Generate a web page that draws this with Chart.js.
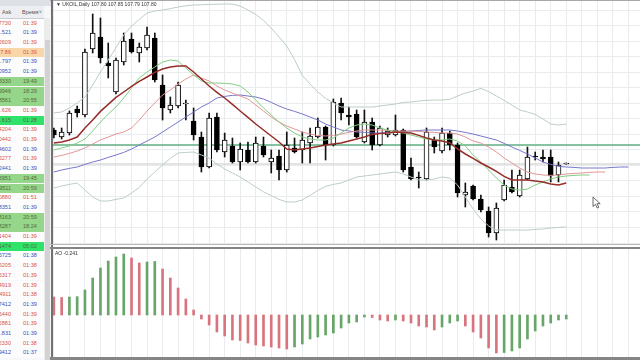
<!DOCTYPE html>
<html><head><meta charset="utf-8">
<script src="https://cdn.jsdelivr.net/npm/chart.js@4.4.1/dist/chart.umd.min.js"></script>
<style>
html,body{margin:0;padding:0;width:640px;height:360px;overflow:hidden;background:#fff;font-family:"Liberation Sans",Arial,sans-serif;}
#panel{position:absolute;left:0;top:0;width:51px;height:360px;background:#f6f7f8;overflow:hidden;}
.row{position:absolute;left:0;width:44px;height:9.7px;line-height:9.7px;font-size:5.5px;}
.row span{position:absolute;top:0;white-space:nowrap;}
#main{position:absolute;left:50px;top:0;}
#ao{position:absolute;left:50px;top:249px;}
.ov{position:absolute;z-index:3;}
#hdr{position:absolute;left:56px;top:1px;font-size:5px;color:#333;z-index:3;white-space:nowrap;}
#aolbl{position:absolute;left:55px;top:250px;font-size:5px;color:#333;z-index:3;white-space:nowrap;}
</style></head>
<body>
<div id="panel"></div>
<canvas id="main" width="590" height="245"></canvas>
<canvas id="ao" width="590" height="108"></canvas>
<div class="ov" style="left:50px;top:0;width:590px;height:1px;background:#a8a8a8"></div>
<div class="ov" style="left:51px;top:0;width:1.5px;height:360px;background:#707070"></div>
<div class="ov" style="left:50px;top:244px;width:590px;height:1px;background:#b8b8b8"></div>
<div class="ov" style="left:50px;top:247px;width:590px;height:2px;background:#858585"></div>
<div class="ov" style="left:50px;top:357px;width:590px;height:3px;background:#858585"></div>
<div id="hdr"></div>
<div id="aolbl"></div>
<svg class="ov" style="left:592px;top:196px" width="10" height="13"><path d="M1 1 L1 10.5 L3.4 8.3 L5.2 12 L6.8 11.3 L5 7.7 L8.2 7.7 Z" fill="#fff" stroke="#444" stroke-width="0.8"/></svg>
<script>
// ---- data ----
const symbolName = "UKOIL,Daily";
const categories = ["1","2","3","4","5","6","7","8","9","10","11","12","13","14","15","16","17","18","19","20","21","22","23","24","25","26","27","28","29","30","31","32","33","34","35","36","37","38","39","40","41","42","43","44","45","46","47","48","49","50","51","52","53","54","55","56","57","58","59","60","61","62","63","64","65","66","67","68","69","70","71","72","73","74","75","76"];
const openP = [109.5,109.15,109.35,110.55,110.25,113.55,114.15,112.85,111.4,112.9,
114.05,113.35,113.6,114.1,111.75,110.5,110.7,110.8,109.95,109.15,
107.65,110.15,108.4,108.7,107.9,108.5,107.9,108.7,107.9,108.2,
107.5,108.6,108.5,108.85,109.15,109.65,108.75,110.85,110.25,110.3,
108.9,109.9,108.75,109.25,109.25,109.5,107.65,107.15,107.05,109.0,
108.45,109.35,108.75,106.25,106.7,106.05,105.45,104.35,106.0,106.65,
106.2,107.05,108.2,108.15,108.15,107.25,107.80];
const highP = [109.6,109.6,110.45,110.7,113.55,115.3,115.1,113.85,113.1,114.35,
114.35,113.85,114.65,114.35,112.25,111.15,111.9,111.0,110.6,109.4,
110.35,110.35,109.35,109.1,108.85,108.9,109.15,109.15,108.5,108.5,
109.4,109.1,109.4,109.6,110.1,109.7,111.05,111.1,110.65,110.5,
110.5,110.1,109.7,109.6,110.25,109.55,108.1,107.4,109.6,109.15,
109.6,109.45,108.85,106.85,106.75,106.25,105.65,105.85,107.0,107.5,
107.5,108.65,108.4,108.5,108.5,107.9,107.85];
const lowP = [109.1,109.05,109.25,110.15,110.15,113.35,112.85,112.1,111.3,112.75,
113.35,112.9,113.5,111.9,110.0,110.35,110.6,110.0,109.0,107.4,
107.6,108.4,108.15,107.85,107.5,107.85,107.85,108.15,107.35,107.0,
107.4,108.35,107.85,107.85,109.1,108.0,108.7,110.0,109.75,109.1,
108.85,108.5,108.7,109.15,109.2,107.4,107.0,106.6,107.0,108.35,
108.35,108.5,106.15,105.65,106.0,105.4,104.15,104.0,105.95,106.35,
106.15,107.0,108.0,107.9,106.9,106.9,107.79];
const closeP = [109.25,109.4,110.35,110.35,113.4,114.35,113.1,112.7,113.0,113.95,
113.4,113.65,114.25,112.0,110.6,110.75,111.75,110.85,109.25,107.65,
110.1,108.5,109.0,107.9,108.55,107.9,108.85,108.25,108.1,107.5,
108.75,108.4,109.0,109.2,109.65,108.75,110.9,110.35,110.15,109.15,
109.9,108.75,109.6,109.45,109.5,107.5,107.05,107.1,109.4,108.65,
109.35,108.75,106.35,106.4,106.05,105.5,104.35,105.6,106.75,106.4,
107.25,108.15,108.15,108.05,107.2,107.75,107.80];
const bbUpper = [110.35,110.4,110.6,110.85,111.15,111.75,112.4,113.0,113.62,114.25,114.7,115.03,115.35,115.45,115.5,115.57,115.65,115.71,115.75,115.76,115.78,115.79,115.8,115.8,115.7,115.5,115.28,114.98,114.6,114.15,113.7,113.02,112.22,111.8,111.4,111.08,110.85,110.65,110.65,110.65,110.65,110.65,110.7,110.75,110.8,110.88,110.9,110.95,110.98,111.0,111.0,111.03,111.2,111.35,111.45,111.58,111.42,111.2,110.98,110.75,110.5,110.4,110.28,110.05,109.8,109.75,109.8];
const bbLower = [106.6,106.7,106.78,106.85,106.5,106.15,105.95,105.95,106.03,106.1,106.35,106.63,107.05,107.4,107.75,108.08,108.35,108.38,108.4,108.25,108.1,107.8,107.55,107.35,107.15,106.9,106.65,106.41,106.22,106.03,105.9,105.9,106.0,106.23,106.48,106.68,106.78,106.85,107.0,107.15,107.2,107.25,107.3,107.35,107.4,107.3,107.15,107.0,107.0,107.05,107.15,107.1,106.75,106.15,105.55,105.05,104.7,104.5,104.5,104.5,104.5,104.5,104.53,104.55,104.6,104.63,104.65];
const maLine = [108.85,108.9,109.0,109.15,109.6,110.0,110.43,110.78,111.13,111.4,111.68,111.93,112.15,112.38,112.55,112.65,112.7,112.7,112.4,112.05,111.7,111.38,111.1,110.78,110.45,110.13,109.8,109.5,109.2,108.9,108.55,108.5,108.55,108.6,108.68,108.75,108.8,108.85,108.95,109.05,109.15,109.28,109.33,109.35,109.4,109.38,109.35,109.23,109.1,109.0,108.95,108.85,108.55,108.3,108.08,107.85,107.65,107.43,107.18,107.0,107.0,107.0,106.95,106.9,106.8,106.75,106.85];
const lipsLine = [108.5,108.6,108.7,108.85,109.05,109.45,109.9,110.3,110.65,111.1,111.6,112.1,112.4,112.65,112.9,113.0,112.95,112.6,112.25,111.95,111.85,111.85,111.83,111.8,111.7,111.4,111.0,110.6,110.25,109.9,109.6,109.35,109.15,109.05,109.0,109.0,109.1,109.35,109.6,109.75,109.8,109.75,109.6,109.5,109.4,109.35,109.25,109.15,109.05,109.0,109.0,109.05,108.95,108.7,108.25,107.9,107.5,107.1,106.75,106.55,106.5,106.55,106.75,106.9,107.05,107.15,107.2,107.23,107.25,107.25];
const teethLine = [108.15,108.23,108.33,108.45,108.6,108.8,109.0,109.15,109.3,109.4,109.6,110.0,110.45,110.85,111.25,111.5,111.8,112.05,112.25,112.1,111.95,111.7,111.5,111.35,111.2,111.05,110.75,110.45,110.15,109.9,109.7,109.55,109.4,109.3,109.23,109.2,109.23,109.3,109.38,109.45,109.5,109.5,109.5,109.48,109.45,109.45,109.45,109.43,109.4,109.38,109.35,109.35,109.3,109.15,108.95,108.85,108.65,108.4,108.1,107.85,107.6,107.4,107.3,107.25,107.23,107.25,107.3,107.33,107.35,107.38,107.4,107.4];
const jawLine = [107.4,107.5,107.58,107.65,107.78,107.9,108.0,108.13,108.25,108.38,108.55,108.75,108.95,109.15,109.4,109.65,109.9,110.15,110.4,110.65,110.85,111.1,111.18,111.23,111.25,111.2,111.15,111.05,110.88,110.7,110.55,110.43,110.3,110.15,110.0,109.8,109.65,109.5,109.45,109.4,109.38,109.35,109.35,109.38,109.4,109.43,109.45,109.48,109.5,109.5,109.5,109.5,109.45,109.38,109.3,109.2,109.1,109.0,108.83,108.65,108.48,108.3,108.1,107.9,107.78,107.68,107.65,107.63,107.6,107.6,107.6,107.6,107.63,107.65,107.65];
const levelPrice = 108.75;
const aoValues = [1.08,1.05,1.08,1.10,1.50,2.22,2.82,3.24,3.48,3.66,3.42,3.12,3.18,3.21,2.76,2.22,1.62,0.96,0.30,-0.24,-0.60,-1.02,-1.26,-1.50,-1.53,-1.68,-1.80,-1.86,-1.92,-1.98,-2.04,-1.92,-1.74,-1.44,-1.32,-1.20,-1.08,-0.78,-0.48,-0.42,-0.12,-0.15,-0.30,-0.36,-0.30,-0.36,-0.48,-0.66,-0.72,-0.90,-0.72,-0.48,-0.36,-0.66,-1.02,-1.38,-1.98,-2.28,-2.25,-2.16,-1.98,-1.44,-0.96,-0.66,-0.48,-0.30,-0.241];
// market watch panel
const askPrices = ["7730","1.521","2609","7.86","1.797","0952","3330","9946","8561","1.626","3.615","4204","0442","4602","5277","2441","6951","9511","0880","8351","8163","8287","1404","1474","5725","5205","5317","4919","4911","7412","5440","2881","1.831","2330","9412"];
const askTimes = ["01:39","01:39","01:39","01:39","01:39","01:39","19:49","18:29","20:55","01:39","01:28","01:39","01:39","01:39","01:39","01:39","19:45","20:59","01:51","01:39","20:59","18:24","01:39","05:02","01:38","01:38","01:39","01:39","01:38","01:39","01:39","01:39","01:39","01:38","01:37"];
const askDir = ["dn","up","dn","dn","up","up","st","st","st","dn","st","dn","dn","up","dn","up","st","st","dn","up","st","st","dn","st","up","dn","dn","dn","dn","up","dn","dn","up","dn","up"];
const askMark = ["","","","peach","","","green","green","green","","bright","","","","","","green","green","","","green","green","","bright","","","","","","","","","","",""];

// ---- panel ----
const panel = document.getElementById('panel');
let ph = '<div style="position:absolute;left:0;top:0;width:51px;height:6px;background:#dde1e5"></div>';
ph += '<div style="position:absolute;left:0;top:6px;width:44px;height:12px;background:#eceef1;border-bottom:1px solid #c9cdd2;font-size:5.5px;line-height:12px;color:#555"><span style="position:absolute;left:2px">Ask</span><span style="position:absolute;left:22px">Время</span><span style="position:absolute;left:39px;font-size:5px">˅</span></div>';
ph += '<div style="position:absolute;left:44px;top:18px;width:6px;height:342px;background:#ececec"></div>';
ph += '<div style="position:absolute;left:44.5px;top:40px;width:5px;height:320px;background:#d2d2d2"></div>';
const txtCol = {dn:'#d9534f', up:'#3550c0', st:'#4f6d3c'};
const bgCol = {'':'#fbfcfb', peach:'#f9d6a8', green:'#96d68a', bright:'#2fe36a'};
askPrices.forEach((v,k)=>{
  const top = 18.6 + k*9.7;
  const c = txtCol[askDir[k]];
  ph += `<div class="row" style="top:${top}px;background:${bgCol[askMark[k]]};color:${c}"><span style="right:33px">${v}</span><span style="left:23px">${askTimes[k]}</span></div>`;
});
panel.innerHTML = ph;

const n = closeP.length;
document.getElementById('hdr').textContent = '▼ ' + symbolName + ' ' + openP[n-1].toFixed(2) + ' ' + highP[n-1].toFixed(2) + ' ' + lowP[n-1].toFixed(2) + ' ' + closeP[n-1].toFixed(2);
document.getElementById('aolbl').textContent = 'AO ' + aoValues[aoValues.length-1].toFixed(3);

// ---- main chart ----
const gridColor = 'rgb(233,236,239)';
const bodies = openP.map((o,i)=>[o, closeP[i]]);
const wicks = lowP.map((l,i)=>[l, highP[i]]);
const bodyColors = openP.map((o,i)=> closeP[i] >= o ? '#ffffff' : '#000000');
const bidPrice = closeP[n-1];

const hLines = {
  id:'hLines',
  beforeDatasetsDraw(chart){
    const {ctx, chartArea, scales:{y}} = chart;
    ctx.save();
    [[bidPrice,'rgb(200,200,200)',1],[levelPrice,'rgb(95,175,130)',1.5]].forEach(([v,c,w])=>{
      const py = y.getPixelForValue(v);
      ctx.strokeStyle=c; ctx.lineWidth=w;
      ctx.beginPath(); ctx.moveTo(chartArea.left+2,py); ctx.lineTo(chartArea.right,py); ctx.stroke();
    });
    ctx.restore();
  }
};
const lineDs = (data,color,w)=>({type:'line',data,borderColor:color,borderWidth:w,pointRadius:0,tension:0,fill:false,order:1});
const xScale = {offset:true, grid:{offset:false, drawTicks:false, color:(c)=> c.index%2===0 ? gridColor : 'rgba(0,0,0,0)'}, ticks:{display:false}, border:{display:false}};

new Chart(document.getElementById('main'), {
  type:'bar',
  data:{labels:categories, datasets:[
    lineDs(maLine,'rgb(150,45,40)',1.5),
    lineDs(lipsLine,'rgb(130,205,130)',1),
    lineDs(teethLine,'rgb(226,150,150)',1),
    lineDs(jawLine,'rgb(118,118,205)',1),
    lineDs(bbUpper,'rgb(188,206,194)',1),
    lineDs(bbLower,'rgb(188,206,194)',1),
    {type:'bar',data:bodies,backgroundColor:bodyColors,borderColor:'#000',borderWidth:1,borderSkipped:false,barThickness:5,grouped:false,minBarLength:1,order:5},
    {type:'bar',data:wicks,backgroundColor:'#111',borderWidth:0,barThickness:1,grouped:false,order:6}
  ]},
  options:{responsive:false,animation:false,devicePixelRatio:1,layout:{padding:0},
    plugins:{legend:{display:false},tooltip:{enabled:false}},
    scales:{
      x:xScale,
      y:{min:103.75,max:116,grid:{color:gridColor,drawTicks:false},ticks:{display:false},border:{display:false},
        afterBuildTicks:(s)=>{const t=[];for(let v=103.85;v<=s.max;v+=0.775)t.push({value:v});s.ticks=t;}}
    }},
  plugins:[hLines]
});

// ---- AO chart ----
const aoColors = aoValues.map((v,i)=> (i>0 && v > aoValues[i-1]) ? 'rgb(104,165,104)' : 'rgb(216,116,126)');
new Chart(document.getElementById('ao'), {
  type:'bar',
  data:{labels:categories, datasets:[{data:aoValues,backgroundColor:aoColors,borderWidth:0,barThickness:2}]},
  options:{responsive:false,animation:false,devicePixelRatio:1,layout:{padding:0},
    plugins:{legend:{display:false},tooltip:{enabled:false}},
    scales:{
      x:xScale,
      y:{min:-2.52,max:3.96,grid:{display:false,drawTicks:false},ticks:{display:false},border:{display:false}}
    }}
});
</script>
</body></html>
